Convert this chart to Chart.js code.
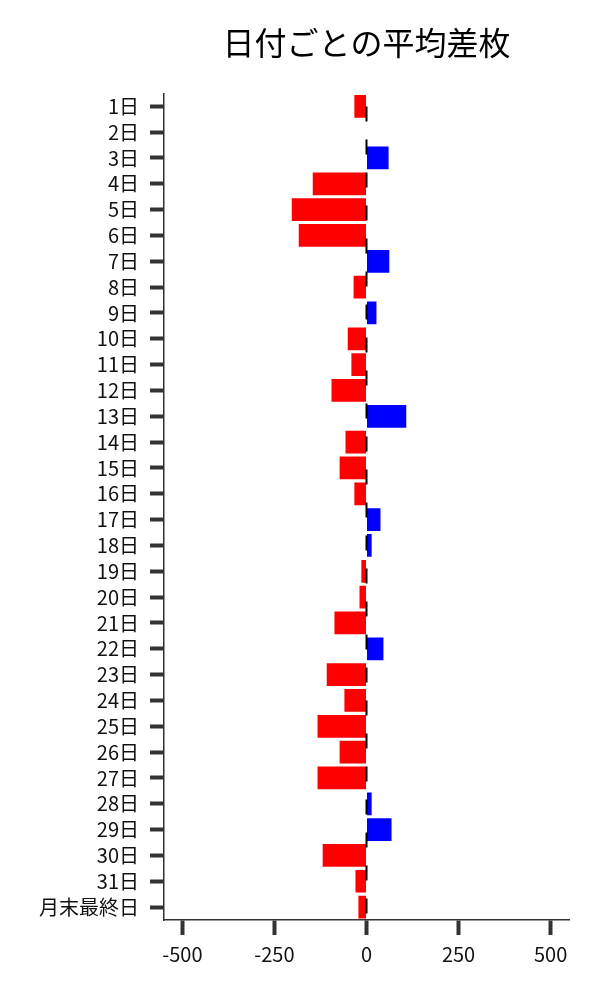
<!DOCTYPE html>
<html><head><meta charset="utf-8">
<script src="https://cdn.jsdelivr.net/npm/chart.js@4/dist/chart.umd.min.js"></script>
<style>html,body{margin:0;padding:0;background:#fff}#wrap{width:600px;height:1000px}</style>
</head><body><div id="wrap"><canvas id="c" width="600" height="1000"></canvas></div>
<script>
const categories = ["1日","2日","3日","4日","5日","6日","7日","8日","9日","10日","11日","12日","13日","14日","15日","16日","17日","18日","19日","20日","21日","22日","23日","24日","25日","26日","27日","28日","29日","30日","31日","月末最終日"];
const avgDiff = [-33,0,60,-146,-203,-184,62,-35,27,-51,-41,-95,108,-57,-73,-33,38,14,-14,-19,-87,46,-108,-60,-133,-73,-133,14,68,-119,-30,-22];
const xTickValues = [-500,-250,0,250,500];
const titleText = "日付ごとの平均差枚";
const FONT = "'Noto Sans CJK JP', 'Noto Sans', sans-serif";

const zeroLine = {
  id: 'zeroLine',
  afterDatasetsDraw(chart) {
    const {ctx, chartArea, scales} = chart;
    const x = scales.x.getPixelForValue(0);
    ctx.save();
    ctx.strokeStyle = '#000';
    ctx.lineWidth = 2;
    ctx.setLineDash([15, 18]);
    ctx.lineDashOffset = 20;
    ctx.beginPath();
    ctx.moveTo(x, chartArea.top);
    ctx.lineTo(x, chartArea.bottom);
    ctx.stroke();
    ctx.restore();
  }
};

new Chart(document.getElementById('c'), {
  type: 'bar',
  data: {
    labels: categories,
    datasets: [{
      data: avgDiff,
      backgroundColor: avgDiff.map(v => v >= 0 ? '#0000ff' : '#ff0000'),
      borderWidth: 0,
      barPercentage: 0.88,
      categoryPercentage: 1.0
    }]
  },
  options: {
    indexAxis: 'y',
    responsive: false,
    animation: false,
    layout: { padding: { left: 0, right: 31, top: 0, bottom: 0 } },
    plugins: {
      legend: { display: false },
      tooltip: { enabled: false },
      title: {
        display: true,
        text: titleText,
        fullSize: false,
        color: '#000',
        font: { family: FONT, size: 32, weight: 'normal', lineHeight: 1.2 },
        padding: { top: 24, bottom: 31 }
      }
    },
    scales: {
      x: {
        min: -550, max: 550,
        afterBuildTicks(scale) { scale.ticks = xTickValues.map(v => ({ value: v })); },
        afterFit(scale) { scale.height = 80; },
        grid: { drawOnChartArea: false, drawTicks: true, tickLength: 15, tickWidth: 4, tickColor: '#333' },
        border: { display: true, color: '#333', width: 1.5 },
        ticks: { color: '#111', font: { family: FONT, size: 20 }, padding: 7, maxRotation: 0 }
      },
      y: {
        afterFit(scale) { scale.width = 164; },
        grid: { offset: false, drawOnChartArea: false, drawTicks: true, tickLength: 14, tickWidth: 4, tickColor: '#333' },
        border: { display: true, color: '#333', width: 1.5 },
        ticks: { color: '#111', font: { family: FONT, size: 20 }, padding: 11, autoSkip: false }
      }
    }
  },
  plugins: [zeroLine]
});
</script></body></html>
